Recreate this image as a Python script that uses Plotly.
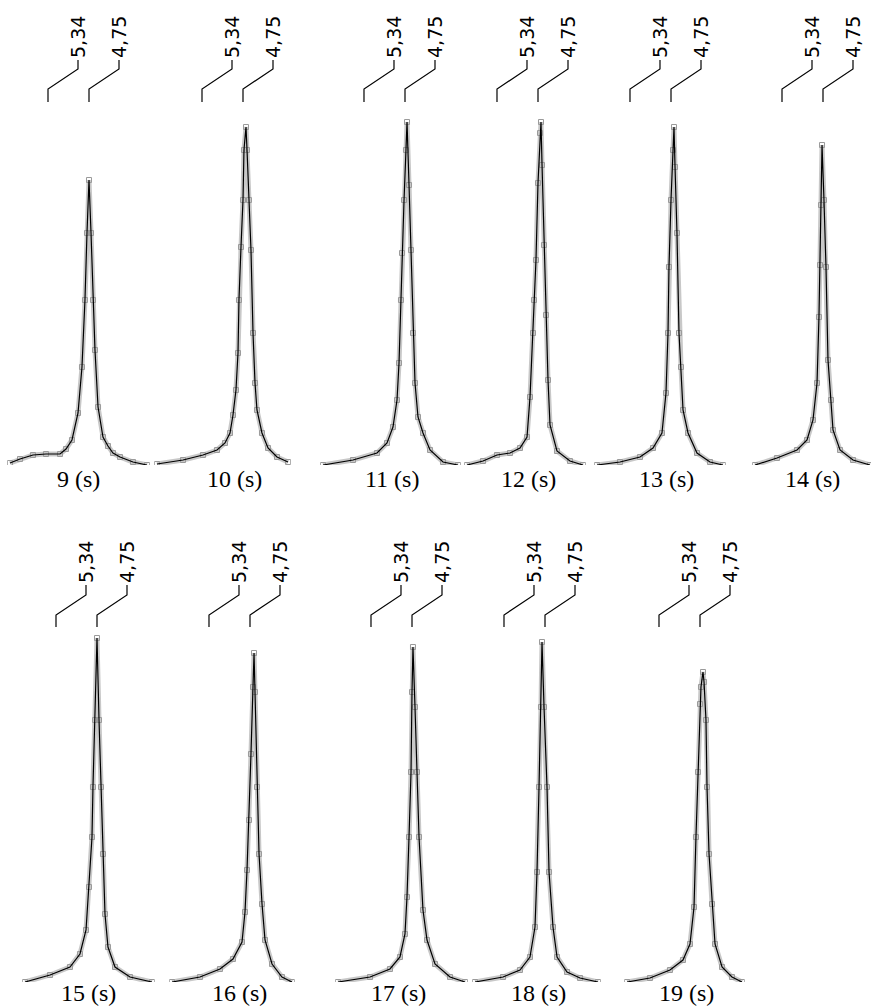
import plotly.graph_objects as go

W, H = 871, 1008
PX_PER_PPM = 69.5

# --- data: 1H NMR water signal, one spectrum per time point ---
time_labels = ["9 (s)", "10 (s)", "11 (s)", "12 (s)", "13 (s)", "14 (s)",
               "15 (s)", "16 (s)", "17 (s)", "18 (s)", "19 (s)"]

ppm_9 = [5.887, 5.743, 5.556, 5.369, 5.167, 5.081, 4.995, 4.908, 4.851, 4.808, 4.779,
         4.750, 4.721, 4.692, 4.664, 4.620, 4.549, 4.477, 4.405, 4.304, 4.117, 3.915]
int_9 = [2, 6, 10, 11, 11, 16, 25, 52, 98, 165, 232, 285, 232, 165, 115, 58, 28, 19, 12, 8, 3, 0]

ppm_10 = [5.988, 5.613, 5.326, 5.124, 5.009, 4.937, 4.894, 4.851, 4.822, 4.808, 4.779, 4.750,
          4.736, 4.707, 4.692, 4.664, 4.635, 4.606, 4.577, 4.549, 4.477, 4.390, 4.261, 4.102]
int_10 = [1, 5, 10, 15, 22, 32, 50, 75, 112, 165, 218, 265, 315, 338, 315, 265, 215, 132,
          82, 55, 32, 17, 8, 3]

ppm_11 = [5.930, 5.498, 5.153, 5.009, 4.923, 4.865, 4.836, 4.808, 4.793, 4.764, 4.736,
          4.721, 4.692, 4.664, 4.635, 4.606, 4.563, 4.491, 4.390, 4.203, 3.987]
int_11 = [0, 5, 12, 22, 38, 65, 102, 165, 212, 265, 315, 343, 280, 215, 132, 82, 48, 32,
          15, 3, 0]

ppm_12 = [5.772, 5.541, 5.340, 5.153, 5.009, 4.908, 4.865, 4.822, 4.808, 4.779, 4.750,
          4.721, 4.707, 4.692, 4.664, 4.635, 4.606, 4.577, 4.477, 4.290, 4.102]
int_12 = [0, 4, 10, 12, 17, 28, 68, 132, 165, 205, 282, 332, 343, 300, 220, 150, 85, 40,
          14, 4, 0]

ppm_13 = [5.815, 5.484, 5.196, 5.009, 4.880, 4.822, 4.793, 4.779, 4.750, 4.721, 4.707,
          4.692, 4.664, 4.635, 4.606, 4.577, 4.505, 4.376, 4.189, 4.002]
int_13 = [0, 3, 8, 17, 32, 72, 132, 198, 265, 315, 338, 298, 232, 132, 98, 55, 32, 12, 3, 0]

ppm_14 = [5.729, 5.412, 5.124, 4.980, 4.894, 4.836, 4.808, 4.793, 4.779, 4.764, 4.736,
          4.707, 4.678, 4.635, 4.606, 4.505, 4.318, 4.074]
int_14 = [0, 7, 15, 25, 45, 82, 148, 200, 260, 320, 265, 198, 105, 65, 35, 15, 5, 0]

ppm_15 = [5.786, 5.426, 5.139, 4.995, 4.908, 4.865, 4.822, 4.808, 4.779, 4.750, 4.721,
          4.692, 4.664, 4.635, 4.592, 4.491, 4.275, 3.959]
int_15 = [0, 7, 15, 28, 52, 95, 145, 195, 262, 344, 262, 195, 128, 68, 35, 15, 5, 0]

ppm_16 = [5.872, 5.470, 5.182, 4.995, 4.865, 4.822, 4.793, 4.764, 4.736, 4.707, 4.692,
          4.678, 4.649, 4.620, 4.577, 4.534, 4.433, 4.290, 4.146]
int_16 = [0, 5, 13, 23, 40, 70, 112, 162, 228, 295, 329, 290, 195, 128, 78, 42, 18, 5, 0]

ppm_17 = [5.815, 5.354, 5.067, 4.923, 4.851, 4.822, 4.793, 4.764, 4.750, 4.736, 4.707,
          4.678, 4.649, 4.592, 4.534, 4.419, 4.203, 3.987]
int_17 = [0, 5, 13, 25, 48, 85, 145, 210, 290, 335, 275, 210, 145, 72, 42, 18, 5, 0]

ppm_18 = [5.757, 5.354, 5.110, 4.966, 4.894, 4.865, 4.836, 4.808, 4.793, 4.764, 4.721,
          4.692, 4.635, 4.577, 4.433, 4.246, 3.987]
int_18 = [0, 5, 12, 25, 55, 110, 195, 275, 340, 275, 195, 110, 55, 25, 10, 4, 0]

ppm_19 = [5.800, 5.470, 5.182, 4.995, 4.894, 4.836, 4.808, 4.779, 4.750, 4.736, 4.707,
          4.692, 4.664, 4.649, 4.620, 4.577, 4.534, 4.433, 4.290, 4.146]
int_19 = [0, 4, 12, 22, 38, 75, 145, 210, 278, 295, 310, 300, 262, 195, 128, 78, 38, 15, 5, 0]

# reference chemical shifts marked above every spectrum
shift_ppm = [5.34, 4.75]
shift_labels = ["5,34", "4,75"]

spectra = [
    (ppm_9, int_9), (ppm_10, int_10), (ppm_11, int_11), (ppm_12, int_12),
    (ppm_13, int_13), (ppm_14, int_14), (ppm_15, int_15), (ppm_16, int_16),
    (ppm_17, int_17), (ppm_18, int_18), (ppm_19, int_19),
]

# --- layout: pixel placement of each panel ---
x475_px = [89, 243, 405, 538, 671, 823, 97, 250, 412, 545, 700]
label_px = [78, 234, 392, 528, 666, 812, 88, 240, 398, 538, 686]
row_of = [0, 0, 0, 0, 0, 0, 1, 1, 1, 1, 1]
baseline_px = [465, 982]
plot_height_px = 366
label_y_px = [479, 993]
leader_px = [[102, 89, 69, 60], [627, 615, 595, 585]]
leader_dx_px = 30

SERIF = '"Liberation Serif", "Times New Roman", Times, serif'
SANS = '"DejaVu Sans", Verdana, sans-serif'


def fy(py):
    return 1 - py / H


fig = go.Figure()
layout = dict(
    width=W, height=H, margin=dict(l=0, r=0, t=0, b=0),
    paper_bgcolor="white", plot_bgcolor="white", showlegend=False,
)
shapes, annotations = [], []

for i, (ppm, inten) in enumerate(spectra):
    n = i + 1
    xa, ya = f"x{n}", f"y{n}"
    X = x475_px[i]
    L = max(ppm) + 0.04
    R = min(ppm) - 0.04
    left = X - (L - 4.75) * PX_PER_PPM
    right = X + (4.75 - R) * PX_PER_PPM
    if left < 0:
        L = 4.75 + X / PX_PER_PPM
        left = 0
    if right > W:
        R = 4.75 - (W - X) / PX_PER_PPM
        right = W
    r = row_of[i]
    base = baseline_px[r]
    key = "" if n == 1 else str(n)
    layout["xaxis" + key] = dict(domain=[left / W, right / W], range=[L, R],
                                 visible=False, anchor=ya, fixedrange=True)
    layout["yaxis" + key] = dict(domain=[fy(base), fy(base - plot_height_px)],
                                 range=[0, plot_height_px], visible=False,
                                 anchor=xa, fixedrange=True)

    # scattered acquisition points (grey) and fitted trace (black)
    fig.add_trace(go.Scatter(
        x=ppm, y=inten, xaxis=xa, yaxis=ya, mode="lines+markers",
        line=dict(color="#c8c8c8", width=5),
        marker=dict(symbol="square-open", size=5, color="#9a9a9a", line=dict(width=1)),
        hoverinfo="skip"))
    fig.add_trace(go.Scatter(
        x=ppm, y=inten, xaxis=xa, yaxis=ya, mode="lines",
        line=dict(color="black", width=1.2), hoverinfo="skip"))

    # shift markers with bent leader lines
    b, k1, k2, top = leader_px[r]
    dx = leader_dx_px / PX_PER_PPM
    for s, txt in zip(shift_ppm, shift_labels):
        path = (f"M {s},{fy(b)} L {s},{fy(k1)} L {s - dx},{fy(k2)} "
                f"L {s - dx},{fy(top)}")
        shapes.append(dict(type="path", path=path, xref=xa, yref="paper",
                           line=dict(color="black", width=1.2)))
        annotations.append(dict(
            x=s - dx, y=fy(top), xref=xa, yref="paper", text=txt,
            textangle=-90, showarrow=False, xanchor="center", yanchor="bottom",
            font=dict(family=SANS, size=19, color="black")))

    annotations.append(dict(
        x=label_px[i] / W, y=fy(label_y_px[r]), xref="paper", yref="paper",
        text=time_labels[i], showarrow=False, xanchor="center", yanchor="middle",
        font=dict(family=SERIF, size=24, color="black")))

layout["shapes"] = shapes
layout["annotations"] = annotations
fig.update_layout(**layout)
fig.write_html("out.html")
